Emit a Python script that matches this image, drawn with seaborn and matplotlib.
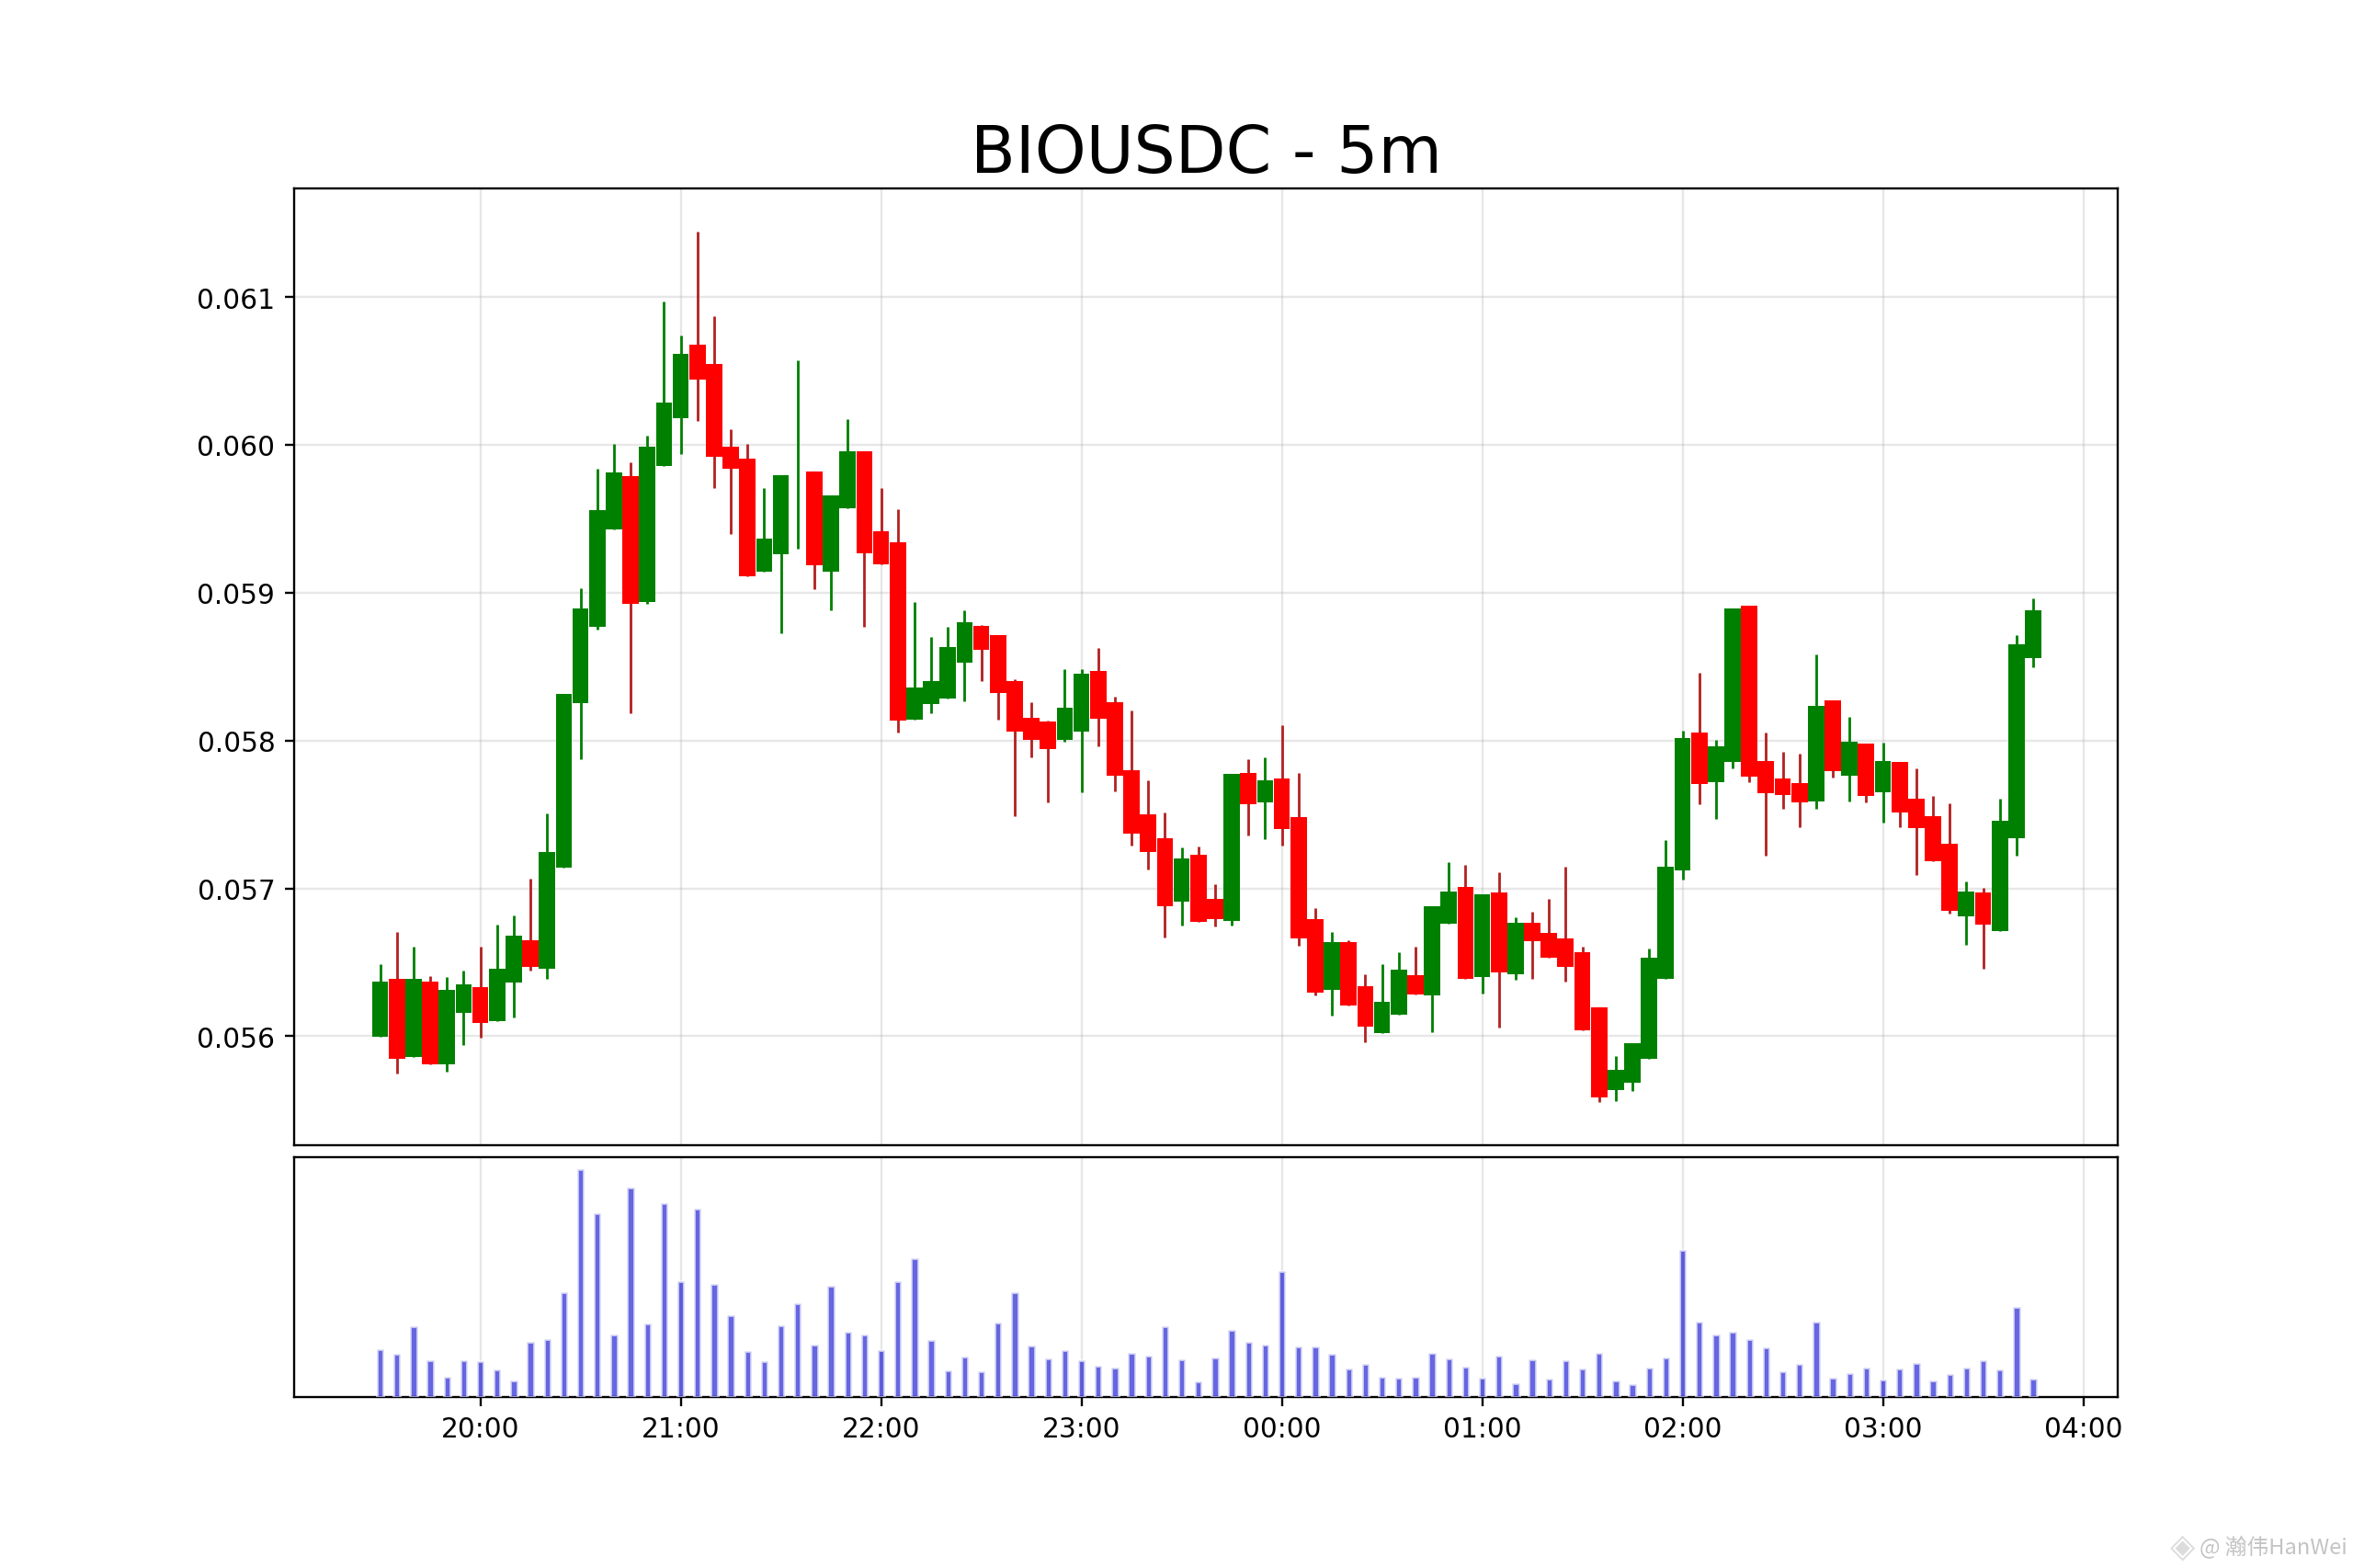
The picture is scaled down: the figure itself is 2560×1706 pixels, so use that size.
import matplotlib
matplotlib.use("Agg")
import matplotlib.dates as mdates
import matplotlib.pyplot as plt
import numpy as np
import pandas as pd
import seaborn as sns

symbol = "BIOUSDC"
interval = "5m"
first_candle = "2025-01-01 19:30"

# prices in thousandths of a USDC
opens = [
    55.996, 56.386, 55.861, 56.369, 55.811, 56.160, 56.332, 56.101, 56.361, 56.651,
    56.453, 57.142, 58.254, 58.771, 59.430, 59.791, 58.939, 59.858, 60.181, 60.681,
    60.551, 59.988, 59.908, 59.144, 59.262, 59.600, 59.824, 59.144, 59.573, 59.959,
    59.417, 59.342, 58.141, 58.250, 58.284, 58.527, 58.779, 58.712, 58.401, 58.154,
    58.128, 58.003, 58.061, 58.469, 58.259, 57.797, 57.499, 57.339, 56.911, 57.230,
    56.928, 56.781, 57.780, 57.579, 57.746, 57.482, 56.793, 56.311, 56.634, 56.340,
    56.021, 56.147, 56.411, 56.273, 56.760, 57.012, 56.399, 56.974, 56.420, 56.768,
    56.697, 56.663, 56.567, 56.197, 55.635, 55.685, 55.845, 56.390, 57.121, 58.053,
    57.717, 57.856, 58.913, 57.860, 57.746, 57.713, 57.591, 58.271, 57.763, 57.977,
    57.650, 57.856, 57.608, 57.490, 57.301, 56.810, 56.974, 56.714, 57.339, 58.561,
]
closes = [
    56.369, 55.845, 56.386, 55.811, 56.311, 56.353, 56.092, 56.458, 56.680, 56.470,
    57.247, 58.317, 58.897, 59.560, 59.812, 58.926, 59.988, 60.286, 60.618, 60.442,
    59.921, 59.841, 59.115, 59.367, 59.799, 59.600, 59.186, 59.657, 59.959, 59.270,
    59.191, 58.133, 58.359, 58.406, 58.636, 58.800, 58.615, 58.322, 58.061, 58.007,
    57.944, 58.221, 58.452, 58.145, 57.763, 57.373, 57.243, 56.882, 57.201, 56.772,
    56.793, 57.772, 57.570, 57.730, 57.402, 56.663, 56.294, 56.634, 56.210, 56.067,
    56.231, 56.449, 56.281, 56.877, 56.978, 56.390, 56.961, 56.432, 56.768, 56.642,
    56.533, 56.470, 56.038, 55.584, 55.769, 55.950, 56.529, 57.146, 58.019, 57.704,
    57.961, 58.893, 57.759, 57.641, 57.629, 57.579, 58.238, 57.793, 57.990, 57.625,
    57.860, 57.516, 57.406, 57.184, 56.848, 56.978, 56.756, 57.457, 58.649, 58.880,
]
highs = [
    56.487, 56.705, 56.605, 56.407, 56.399, 56.445, 56.605, 56.756, 56.819, 57.066,
    57.507, 58.317, 59.031, 59.841, 60.009, 59.883, 60.064, 60.975, 60.744, 61.445,
    60.870, 60.106, 60.009, 59.707, 59.799, 60.576, 59.824, 59.657, 60.177, 59.959,
    59.707, 59.568, 58.935, 58.704, 58.767, 58.880, 58.783, 58.712, 58.414, 58.259,
    58.133, 58.485, 58.485, 58.624, 58.296, 58.204, 57.730, 57.516, 57.276, 57.285,
    57.029, 57.772, 57.877, 57.885, 58.107, 57.784, 56.865, 56.705, 56.651, 56.416,
    56.487, 56.567, 56.605, 56.877, 57.175, 57.159, 56.961, 57.108, 56.806, 56.844,
    56.928, 57.146, 56.605, 56.197, 55.866, 55.954, 56.596, 57.327, 58.065, 58.456,
    58.007, 58.893, 58.913, 58.053, 57.927, 57.914, 58.586, 58.271, 58.158, 57.977,
    57.986, 57.856, 57.809, 57.625, 57.574, 57.045, 57.003, 57.604, 58.716, 58.964,
]
lows = [
    55.996, 55.744, 55.861, 55.811, 55.761, 55.941, 55.987, 56.101, 56.126, 56.441,
    56.386, 57.142, 57.877, 58.754, 59.430, 58.187, 58.926, 59.858, 59.938, 60.165,
    59.707, 59.396, 59.115, 59.144, 58.729, 59.296, 59.027, 58.880, 59.573, 58.767,
    59.191, 58.057, 58.141, 58.187, 58.284, 58.267, 58.401, 58.141, 57.490, 57.889,
    57.579, 57.994, 57.650, 57.961, 57.658, 57.289, 57.129, 56.668, 56.751, 56.772,
    56.743, 56.751, 57.360, 57.331, 57.289, 56.613, 56.273, 56.139, 56.210, 55.958,
    56.021, 56.147, 56.281, 56.029, 56.760, 56.390, 56.290, 56.059, 56.382, 56.390,
    56.533, 56.369, 56.038, 55.555, 55.563, 55.626, 55.845, 56.390, 57.058, 57.570,
    57.469, 57.809, 57.717, 57.222, 57.536, 57.411, 57.536, 57.751, 57.587, 57.579,
    57.448, 57.411, 57.092, 57.184, 56.827, 56.617, 56.458, 56.714, 57.222, 58.498,
]
# relative volume, the axis has no scale
volumes = [
    154, 140, 230, 118, 65, 120, 116, 89, 52, 179,
    187, 340, 743, 598, 203, 683, 238, 632, 377, 613,
    368, 266, 148, 116, 233, 305, 170, 362, 213, 203,
    152, 377, 451, 185, 86, 131, 83, 242, 340, 167,
    125, 152, 119, 101, 95, 142, 134, 230, 122, 50,
    128, 218, 178, 170, 410, 164, 164, 140, 92, 107,
    65, 61, 65, 142, 125, 97, 61, 134, 44, 122,
    59, 119, 92, 143, 52, 41, 95, 128, 479, 245,
    203, 213, 188, 161, 83, 107, 244, 62, 76, 95,
    56, 92, 110, 53, 74, 95, 119, 88, 293, 59,
]

sns.set_style("ticks", rc={
    "axes.edgecolor": "black",
    "xtick.color": "black",
    "ytick.color": "black",
    "text.color": "black",
})
plt.rcParams["font.family"] = ["DejaVu Sans"]

times = pd.date_range(first_candle, periods=len(opens), freq="5min")
df = pd.DataFrame({
    "time": mdates.date2num(times),
    "open": np.array(opens) / 1000,
    "high": np.array(highs) / 1000,
    "low": np.array(lows) / 1000,
    "close": np.array(closes) / 1000,
    "volume": volumes,
})
df["up"] = df["close"] >= df["open"]
bar_step = 5 / (24 * 60)

fig = plt.figure(figsize=(12, 8), dpi=213.34)
gs = fig.add_gridspec(2, 1, height_ratios=[4, 1], hspace=0.02, top=0.8797, bottom=0.1092)
ax = fig.add_subplot(gs[0])
ax_vol = fig.add_subplot(gs[1], sharex=ax)

for is_up, body_color, wick_color in [(True, "green", "green"), (False, "red", "firebrick")]:
    part = df[df["up"] == is_up]
    ax.vlines(part["time"], part["low"], part["high"], color=wick_color, linewidth=0.95, zorder=2)
    ax.bar(part["time"], (part["close"] - part["open"]).abs(),
           bottom=part[["open", "close"]].min(axis=1),
           width=bar_step * 0.98, color=body_color, linewidth=0, zorder=3)

sns.barplot(data=df, x="time", y="volume", native_scale=True, width=0.4,
            color="mediumblue", alpha=0.6, saturation=1, ax=ax_vol, zorder=3)

ax.set_title(f"{symbol} - {interval}", fontsize=24)
ax.grid(True, color="#b0b0b0", alpha=0.3, linewidth=0.8)
ax.set_axisbelow(True)
ax.tick_params(bottom=False, labelbottom=False)

ax_vol.grid(True, axis="x", color="#b0b0b0", alpha=0.3, linewidth=0.8)
ax_vol.set_axisbelow(True)
ax_vol.set_xlabel("")
ax_vol.set_ylabel("")
ax_vol.set_yticks([])
ax_vol.set_ylim(0, max(volumes) * 1.05)

pad = (df["time"].iloc[-1] - df["time"].iloc[0]) * 0.05
ax_vol.set_xlim(df["time"].iloc[0] - pad - 0.0007, df["time"].iloc[-1] + pad + 0.0004)
ax_vol.xaxis.set_major_locator(mdates.HourLocator())
ax_vol.xaxis.set_major_formatter(mdates.DateFormatter("%H:%M"))

for side in ["top", "right", "left", "bottom"]:
    ax.spines[side].set_visible(True)
    ax_vol.spines[side].set_visible(True)

# watermark in the corner
fig.text(0.9975, 0.0135, "@ 瀚伟HanWei", ha="right", va="center", fontsize=8, color="#c4c4c4",
         family=["Noto Sans CJK SC", "DejaVu Sans"])
fig.text(0.9275, 0.0135, "◈", ha="center", va="center", fontsize=12, color="#dcdcdc")

fig.savefig("out.png", dpi=213.34)
